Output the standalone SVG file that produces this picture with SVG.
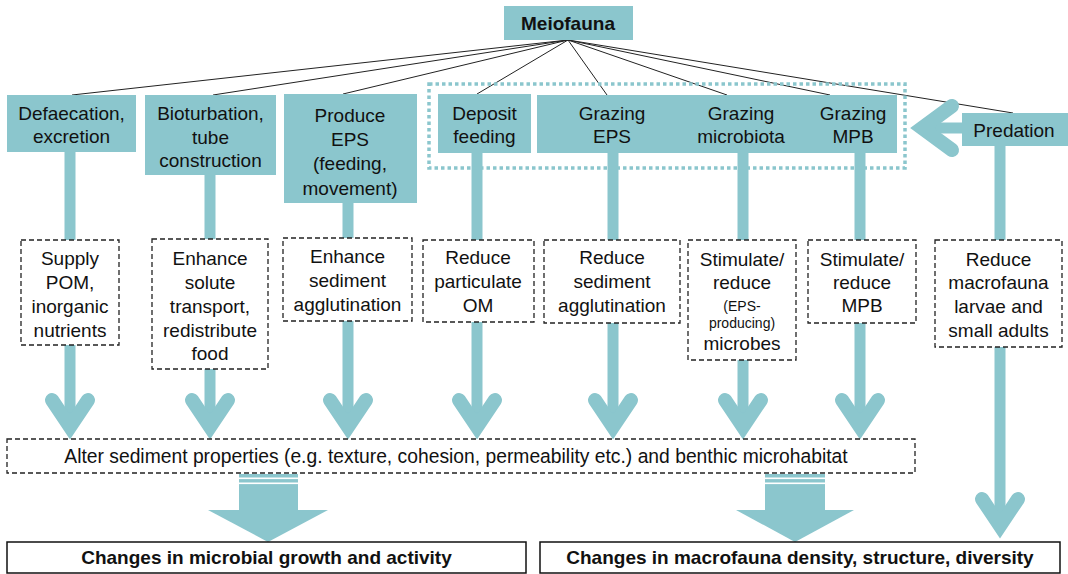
<svg xmlns="http://www.w3.org/2000/svg" width="1068" height="574" viewBox="0 0 1068 574">
<style>
  text { font-family: "Liberation Sans", Arial, sans-serif; font-size: 19px; fill: #111; text-anchor: middle; }
  .b { font-weight: bold; }
  .s { font-size: 14px; }
  .box { fill: #8bc6cd; }
  .dash { fill: #fff; stroke: #222; stroke-width: 1.3; stroke-dasharray: 5 3; }
  .solid { fill: #fff; stroke: #111; stroke-width: 1.5; }
  .stem { stroke: #8bc6cd; stroke-width: 11; fill: none; }
  .head { stroke: #8bc6cd; stroke-width: 14; fill: none; stroke-linejoin: miter; stroke-miterlimit: 10; stroke-linecap: round; }
  .thin { stroke: #222; stroke-width: 1; fill: none; }
</style>
<g id="connectors">
  <path class="thin" d="M568,40 L72,95 M568,40 L213,95 M568,40 L343,94 M568,40 L477,94 M568,40 L607,95 M568,40 L727,95 M568,40 L830,95 M568,40 L1013,113"/>
  <path class="stem" d="M70,152 V240 M210,175 V239 M348,203 V238 M477,153 V240 M613,153 V240 M743,153 V240 M860,153 V240 M1000,146 V240"/>
  <path class="stem" d="M70,345 V427 M210,369 V427 M348,321 V427 M477,322 V427 M613,323 V427 M743,360 V427 M860,323 V427 M1000,347 V526"/>
  <path class="head" d="M52,400 L70,427 L88,400 M192,400 L210,427 L228,400 M330,400 L348,427 L366,400 M459,400 L477,427 L495,400 M595,400 L613,427 L631,400 M725,400 L743,427 L761,400 M842,400 L860,427 L878,400 M982,499 L1000,526 L1018,499"/>
  <path class="stem" d="M922,128 H962"/>
  <path class="head" d="M952,106 L922,128 L952,150"/>
  <rect x="429" y="84" width="476" height="84" fill="none" stroke="#8bc6cd" stroke-width="3.5" stroke-dasharray="3.5 3"/>
  <g id="bigArrowLeft">
    <rect class="box" x="239" y="474" width="59" height="37"/>
    <rect x="239" y="477.5" width="59" height="1.6" fill="#fff"/>
    <rect x="239" y="482.5" width="59" height="1.6" fill="#fff"/>
    <polygon class="box" points="208,510 328,510 268,542"/>
  </g>
  <g id="bigArrowRight">
    <rect class="box" x="765" y="474" width="60" height="37"/>
    <rect x="765" y="477.5" width="60" height="1.6" fill="#fff"/>
    <rect x="765" y="482.5" width="60" height="1.6" fill="#fff"/>
    <polygon class="box" points="736,510 854,510 795,542"/>
  </g>
</g>
<g id="meiofauna"><rect class="box" x="504" y="6" width="129" height="34"/><text class="b" x="568" y="29.5">Meiofauna</text></g>
<g id="defaecation"><rect class="box" x="7" y="95" width="129" height="57"/><text x="71.5" y="120">Defaecation,</text><text x="71.5" y="143">excretion</text></g>
<g id="bioturbation"><rect class="box" x="145" y="95" width="131" height="80"/><text x="210.5" y="120">Bioturbation,</text><text x="210.5" y="143.5">tube</text><text x="210.5" y="167">construction</text></g>
<g id="produceEPS"><rect class="box" x="284" y="94" width="133" height="109"/><text x="350" y="122">Produce</text><text x="350" y="146">EPS</text><text x="350" y="170">(feeding,</text><text x="350" y="194.5">movement)</text></g>
<g id="deposit"><rect class="box" x="438" y="94" width="93" height="59"/><text x="484.5" y="120">Deposit</text><text x="484.5" y="143">feeding</text></g>
<g id="grazing"><rect class="box" x="537" y="95" width="360" height="58"/>
  <text x="612" y="120">Grazing</text><text x="612" y="143">EPS</text>
  <text x="741" y="120">Grazing</text><text x="741" y="143">microbiota</text>
  <text x="853" y="120">Grazing</text><text x="853" y="143">MPB</text></g>
<g id="predation"><rect class="box" x="962" y="113" width="106" height="33"/><text x="1014" y="136.5">Predation</text></g>
<g id="supplyPOM"><rect class="dash" x="21" y="240" width="98" height="105"/><text x="70" y="264.5">Supply</text><text x="70" y="288.5">POM,</text><text x="70" y="312.5">inorganic</text><text x="70" y="336.5">nutrients</text></g>
<g id="enhanceSolute"><rect class="dash" x="152" y="239" width="116" height="130"/><text x="210" y="264.5">Enhance</text><text x="210" y="288.5">solute</text><text x="210" y="312.5">transport,</text><text x="210" y="336.5">redistribute</text><text x="210" y="360">food</text></g>
<g id="enhanceSediment"><rect class="dash" x="283" y="238" width="129" height="83"/><text x="347.5" y="263">Enhance</text><text x="347.5" y="287">sediment</text><text x="347.5" y="311">agglutination</text></g>
<g id="reduceOM"><rect class="dash" x="423" y="240" width="111" height="82"/><text x="478" y="264">Reduce</text><text x="478" y="288">particulate</text><text x="478" y="312">OM</text></g>
<g id="reduceSediment"><rect class="dash" x="544" y="240" width="136" height="83"/><text x="612" y="264">Reduce</text><text x="612" y="288">sediment</text><text x="612" y="312">agglutination</text></g>
<g id="stimMicrobes"><rect class="dash" x="688" y="240" width="108" height="120"/><text x="742" y="266">Stimulate/</text><text x="742" y="289">reduce</text><text class="s" x="742" y="311">(EPS-</text><text class="s" x="742" y="328">producing)</text><text x="742" y="350">microbes</text></g>
<g id="stimMPB"><rect class="dash" x="808" y="240" width="108" height="83"/><text x="862" y="266">Stimulate/</text><text x="862" y="289">reduce</text><text x="862" y="312">MPB</text></g>
<g id="reduceMacro"><rect class="dash" x="935" y="240" width="127" height="107"/><text x="998.5" y="266">Reduce</text><text x="998.5" y="289">macrofauna</text><text x="998.5" y="313">larvae and</text><text x="998.5" y="337">small adults</text></g>
<g id="alter"><rect class="dash" x="7" y="439" width="908" height="34"/><text x="456" y="463" style="font-size:19.3px">Alter sediment properties (e.g. texture, cohesion, permeability etc.) and benthic microhabitat</text></g>
<g id="microbial"><rect class="solid" x="7" y="542" width="519" height="31"/><text class="b" x="266.5" y="564">Changes in microbial growth and activity</text></g>
<g id="macrofauna"><rect class="solid" x="540" y="542" width="520" height="31"/><text class="b" x="800" y="564">Changes in macrofauna density, structure, diversity</text></g>
</svg>
